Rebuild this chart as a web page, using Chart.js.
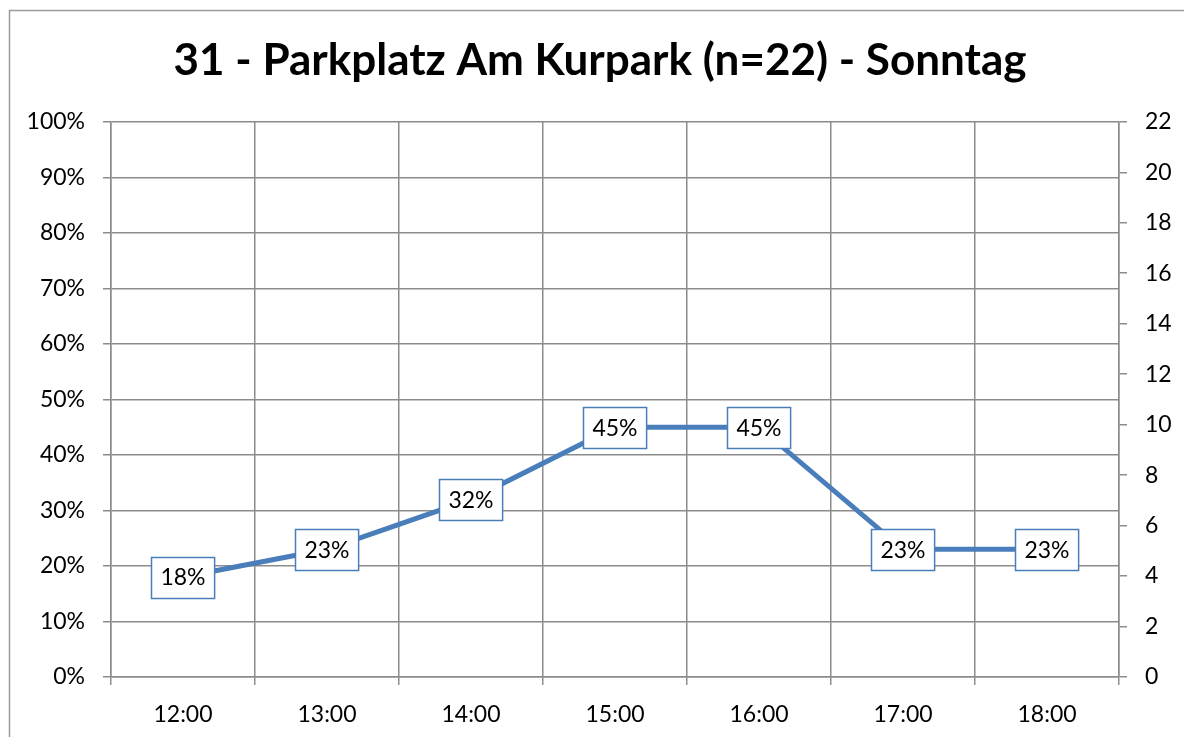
<!DOCTYPE html>
<html>
<head>
<meta charset="utf-8">
<script src="https://cdn.jsdelivr.net/npm/chart.js@4"></script>
<style>
  html, body { margin: 0; padding: 0; background: #fff; }
  #wrap { width: 1184px; height: 737px; position: relative; }
</style>
</head>
<body>
<div id="wrap"><canvas id="chartBelegung"></canvas></div>
<script>
// Belegung je Stunde (Anteil belegter Plätze, in %)
const stunden = ["12:00", "13:00", "14:00", "15:00", "16:00", "17:00", "18:00"];
const belegungProzent = [18, 23, 32, 45, 45, 23, 23];
const stellplaetze = 22; // n, zugleich Maximum der rechten Achse

const blau = "#4a7ebb";
const gitter = "#8c8c8c";

Chart.defaults.font.family = "Lato, 'Open Sans', sans-serif";
Chart.defaults.color = "#000";

// Rahmen um die Grafik (nur oben und links sichtbar)
const rahmen = {
  id: "rahmen",
  beforeDraw(chart) {
    const c = chart.ctx;
    c.save();
    c.strokeStyle = "#9a9a9a";
    c.lineWidth = 1.5;
    c.beginPath();
    c.moveTo(9.5, chart.height);
    c.lineTo(9.5, 10.5);
    c.lineTo(chart.width, 10.5);
    c.stroke();
    c.restore();
  },
};

// Wertbeschriftungen als Kästchen mittig auf den Punkten
const wertKaesten = {
  id: "wertKaesten",
  afterDatasetsDraw(chart) {
    const c = chart.ctx;
    const meta = chart.getDatasetMeta(0);
    c.save();
    c.font = "23px " + Chart.defaults.font.family;
    c.textAlign = "center";
    c.textBaseline = "middle";
    meta.data.forEach((pt, i) => {
      const text = Math.round(belegungProzent[i]) + "%";
      const w = c.measureText(text).width + 18;
      const h = 41;
      const x = Math.round(pt.x - w / 2) + 0.5;
      const y = Math.round(pt.y - h / 2) + 0.5;
      c.fillStyle = "#fff";
      c.fillRect(x, y, w, h);
      c.strokeStyle = blau;
      c.lineWidth = 1.5;
      c.strokeRect(x, y, w, h);
      c.fillStyle = "#000";
      c.fillText(text, pt.x, pt.y + 1);
    });
    c.restore();
  },
};

const ctx = document.getElementById("chartBelegung").getContext("2d");

new Chart(ctx, {
  type: "line",
  data: {
    labels: stunden,
    datasets: [
      {
        label: "Belegung",
        data: belegungProzent,
        borderColor: blau,
        borderWidth: 5,
        pointRadius: 0,
        tension: 0,
        yAxisID: "y",
      },
    ],
  },
  options: {
    responsive: true,
    maintainAspectRatio: false,
    animation: false,
    layout: { padding: { left: 16 } },
    plugins: {
      legend: { display: false },
      tooltip: { enabled: false },
      title: {
        display: true,
        text: "31 - Parkplatz Am Kurpark (n=" + stellplaetze + ") - Sonntag",
        color: "#000",
        font: { size: 44, weight: "bold" },
        padding: { top: 34, bottom: 35 },
      },
    },
    scales: {
      x: {
        offset: true,
        grid: {
          offset: true,
          color: gitter,
          lineWidth: 1.5,
          tickLength: 8,
        },
        border: { color: gitter, width: 1.5 },
        ticks: { font: { size: 23 }, padding: 16 },
        afterFit(s) { s.height = 60; },
      },
      y: {
        position: "left",
        min: 0,
        max: 100,
        ticks: {
          stepSize: 10,
          font: { size: 23 },
          padding: 18,
          callback: (v) => v + "%",
        },
        grid: { color: gitter, lineWidth: 1.5, tickLength: 8 },
        border: { color: gitter, width: 1.5 },
        afterFit(s) { s.width = 95; },
      },
      y1: {
        position: "right",
        display: true,
        min: 0,
        max: stellplaetze,
        ticks: { stepSize: 2, font: { size: 23 }, padding: 18 },
        grid: { drawOnChartArea: false, color: gitter, lineWidth: 1.5, tickLength: 8 },
        border: { color: gitter, width: 1.5 },
        afterFit(s) { s.width = 65; },
      },
    },
  },
  plugins: [rahmen, wertKaesten],
});
</script>
</body>
</html>
